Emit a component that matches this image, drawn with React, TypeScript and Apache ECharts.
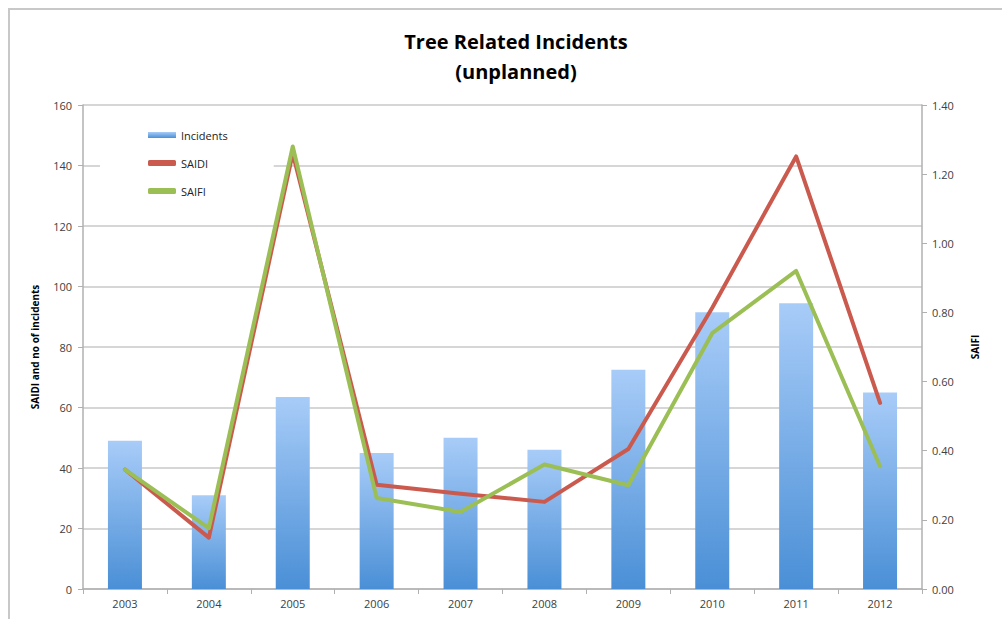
import React, { useEffect, useRef } from "react";
import * as echarts from "echarts";

const years = ["2003", "2004", "2005", "2006", "2007", "2008", "2009", "2010", "2011", "2012"];
const incidents = [49, 31, 63.5, 45, 50, 46, 72.5, 91.5, 94.5, 65];
const saidi = [39.5, 17, 144, 34.5, 31.5, 28.8, 46.3, 93, 143, 61.5];
const saifi = [0.345, 0.176, 1.28, 0.263, 0.223, 0.36, 0.30, 0.74, 0.92, 0.355];

const FONT = "'Open Sans', 'Noto Sans', sans-serif";

export default function App() {
  const ref = useRef<HTMLDivElement>(null);

  useEffect(() => {
    document.body.style.margin = "0";
    const chart = echarts.init(ref.current!, null, { renderer: "svg" });
    const axisLabel = { color: "#404040", fontSize: 11, fontFamily: FONT };
    chart.setOption({
      animation: false,
      backgroundColor: "#ffffff",
      title: {
        text: "Tree Related Incidents\n(unplanned)",
        left: 511,
        textAlign: "center",
        top: 21,
        textStyle: {
          fontFamily: FONT,
          fontWeight: "bold",
          fontSize: 20,
          lineHeight: 30,
          color: "#000",
        },
      },
      graphic: [
        {
          type: "rect",
          shape: { x: 9, y: 9, width: 1100, height: 800 },
          style: { fill: "none", stroke: "#c8c8c8", lineWidth: 2 },
          silent: true,
          z: 0,
        },
      ],
      legend: {
        orient: "vertical",
        left: 100,
        top: 117,
        padding: [10, 46, 10, 48],
        backgroundColor: "#ffffff",
        itemGap: 12,
        itemWidth: 28,
        itemHeight: 6,
        itemTextGap: 3,
        z: 10,
        textStyle: { fontFamily: FONT, fontSize: 11, color: "#222", height: 16, lineHeight: 16 },
        data: [
          { name: "Incidents", icon: "rect" },
          { name: "SAIDI", icon: "roundRect" },
          { name: "SAIFI", icon: "roundRect" },
        ],
      },
      grid: { left: 83, right: 80, top: 105, bottom: 30, containLabel: false },
      xAxis: {
        type: "category",
        data: years,
        boundaryGap: true,
        axisLine: { lineStyle: { color: "#b0b0b0", width: 1.5 } },
        axisTick: { show: true, length: 5, lineStyle: { color: "#b0b0b0" } },
        axisLabel: { ...axisLabel, margin: 9 },
      },
      yAxis: [
        {
          type: "value",
          min: 0,
          max: 160,
          interval: 20,
          name: "SAIDI and no of incidents",
          nameLocation: "middle",
          nameGap: 43,
          nameTextStyle: { fontFamily: FONT, fontWeight: "bold", fontSize: 10, color: "#000" },
          axisLine: { show: true, lineStyle: { color: "#b0b0b0", width: 1.5 } },
          axisTick: { show: true, length: 5, lineStyle: { color: "#b0b0b0" } },
          axisLabel: { ...axisLabel, margin: 11 },
          splitLine: { show: true, lineStyle: { color: "#c8c8c8", width: 1.5 } },
        },
        {
          type: "value",
          min: 0,
          max: 1.4,
          interval: 0.2,
          name: "SAIFI",
          nameLocation: "middle",
          nameGap: 48,
          nameTextStyle: { fontFamily: FONT, fontWeight: "bold", fontSize: 10, color: "#000" },
          axisLine: { show: true, lineStyle: { color: "#b0b0b0", width: 1.5 } },
          axisTick: { show: true, length: 5, lineStyle: { color: "#b0b0b0" } },
          axisLabel: { ...axisLabel, margin: 10, formatter: (v: number) => v.toFixed(2) },
          splitLine: { show: false },
        },
      ],
      series: [
        {
          name: "Incidents",
          type: "bar",
          data: incidents,
          yAxisIndex: 0,
          barWidth: 34,
          itemStyle: {
            color: new echarts.graphic.LinearGradient(0, 0, 0, 1, [
              { offset: 0, color: "#a8ccf8" },
              { offset: 1, color: "#4a8fd6" },
            ]),
          },
          z: 2,
        },
        {
          name: "SAIDI",
          type: "line",
          data: saidi,
          yAxisIndex: 0,
          symbol: "none",
          lineStyle: { color: "#cb5a4e", width: 4, cap: "round", join: "round" },
          itemStyle: { color: "#cb5a4e" },
          z: 3,
        },
        {
          name: "SAIFI",
          type: "line",
          data: saifi,
          yAxisIndex: 1,
          symbol: "none",
          lineStyle: { color: "#9bbf55", width: 4, cap: "round", join: "round" },
          itemStyle: { color: "#9bbf55" },
          z: 4,
        },
      ],
    });
    return () => chart.dispose();
  }, []);

  return <div ref={ref} style={{ width: 1002, height: 619 }} />;
}
